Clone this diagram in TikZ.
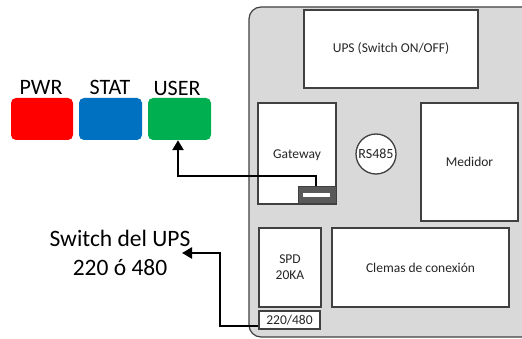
\documentclass[tikz,border=0pt]{standalone}
\usepackage{fontspec}
\setmainfont{Carlito}
\usetikzlibrary{arrows.meta}
\definecolor{ledred}{HTML}{FF0000}
\definecolor{ledblue}{HTML}{0070C0}
\definecolor{ledgreen}{HTML}{00B050}
\definecolor{panelgray}{HTML}{D9D9D9}
\definecolor{edgegray}{HTML}{404040}
\definecolor{txtgray}{HTML}{262626}
\begin{document}
\begin{tikzpicture}[x=1pt,y=-1pt,
  led/.style={draw=none,rounded corners=5pt,inner sep=0pt},
  ledlabel/.style={font=\fontsize{22}{24}\selectfont,inner sep=0pt,anchor=base},
  compbox/.style={draw=edgegray,line width=1.3pt,fill=white,inner sep=0pt,text=txtgray,font=\fontsize{13.5}{16}\selectfont,align=center},
  wire/.style={line width=2.8pt,line join=miter},
  tip/.style={-{Triangle[length=10pt,width=11pt]}}]
\useasboundingbox (0,0) rectangle (522,339);
\begin{scope}
\clip (0,0) rectangle (522,339);
\draw[draw=edgegray,line width=1.2pt,fill=panelgray,rounded corners=12pt] (249,7) rectangle (540,337);
\end{scope}
% components
\node[compbox,minimum width=174pt,minimum height=78pt] (ups) at (391,49) {UPS (Switch ON/OFF)};
\node[compbox,minimum width=78pt,minimum height=101pt] (gw) at (297,153.5) {};
\node[text=txtgray,font=\fontsize{13.5}{16}\selectfont] (gwlabel) at (297,155) {Gateway};
\node[draw=edgegray,fill=gray!70!black,line width=1pt,minimum width=38pt,minimum height=17pt,inner sep=0pt] (port) at (317,195.5) {};
\node[fill=white,minimum width=27pt,minimum height=4pt,inner sep=0pt] (portbar) at (316.5,195) {};
\node[compbox,circle,minimum size=40pt,font=\fontsize{14}{16}\selectfont] (rs) at (376,154) {RS485};
\node[compbox,minimum width=97pt,minimum height=118pt] (med) at (469.5,162) {Medidor};
\node[compbox,minimum width=62pt,minimum height=79pt] (spd) at (290,267.5) {SPD\\20KA};
\node[compbox,minimum width=177pt,minimum height=79pt] (clem) at (420.5,267.5) {Clemas de conexión};
\node[compbox,minimum width=61pt,minimum height=18pt] (sel) at (289.5,320) {220/480};
% LEDs
\node[led,fill=ledred,minimum width=62pt,minimum height=42pt] (pwr) at (42,119) {};
\node[led,fill=ledblue,minimum width=63pt,minimum height=42pt] (stat) at (110.5,119) {};
\node[led,fill=ledgreen,minimum width=63pt,minimum height=42pt] (user) at (179.5,119) {};
\node[ledlabel] (pwrl) at (41,95) {PWR};
\node[ledlabel] (statl) at (110,95) {STAT};
\node[ledlabel] (userl) at (177,96) {USER};
% switch label
\node[font=\fontsize{23.5}{29}\selectfont,align=center,inner sep=0pt] (swl) at (120,253) {Switch del UPS\\220 ó 480};
% wires
\coordinate (c1) at (316,176);
\coordinate (c2) at (178,176);
\draw[wire,tip] (port.north -| c1) -- (c1) -- (c2) -- (user.south -| c2);
\coordinate (d1) at (220,326);
\coordinate (d2) at (220,253);
\coordinate (d3) at (182,253);
\draw[wire,tip] (sel.west |- d1) -- (d1) -- (d2) -- (d3);
\end{tikzpicture}
\end{document}
